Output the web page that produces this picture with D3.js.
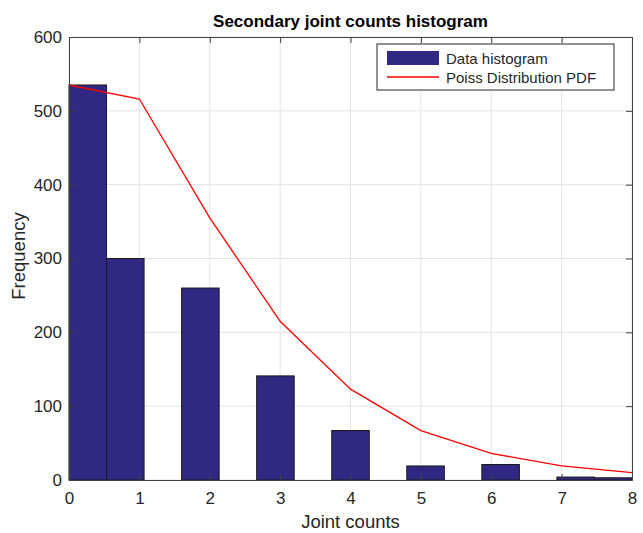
<!DOCTYPE html>
<html>
<head>
<meta charset="utf-8">
<script src="https://cdn.jsdelivr.net/npm/d3@7/dist/d3.min.js"></script>
<style>
body{margin:0;background:#fff;}
svg text{font-family:"Liberation Sans",Arial,sans-serif;fill:#262626;}
</style>
</head>
<body>
<svg id="chart" width="643" height="533"></svg>
<script>
// 15 histogram bins spread across [0, 8]
var binCount=15
var binCounts=[535,300,0,260,0,141,0,67,0,19,0,21,0,4,3]
var poissX=[0,1,2,3,4,5,6,7,8]
var poissY=[535,516,355,215,123,67,36,19,10]
var xTicks=[0,1,2,3,4,5,6,7,8]
var yTicks=[0,100,200,300,400,500,600]

var svg=d3.select("#chart")
var plotLeft=69,plotRight=632,plotTop=37,plotBottom=480

var xScale=d3.scaleLinear().domain([0,8]).range([plotLeft,plotRight])
var yScale=d3.scaleLinear().domain([0,600]).range([plotBottom,plotTop])

var binW=8/binCount
var bins=binCounts.map((c,i)=>({x0:i*binW,x1:(i+1)*binW,count:c})).filter(d=>d.count>0)

// grid
svg.append("g")
.selectAll("line")
.data(xTicks)
.enter()
.append("line")
.attr("x1",d=>xScale(d)).attr("x2",d=>xScale(d))
.attr("y1",plotTop).attr("y2",plotBottom)
.attr("stroke","#e3e3e3")

svg.append("g")
.selectAll("line")
.data(yTicks)
.enter()
.append("line")
.attr("x1",plotLeft).attr("x2",plotRight)
.attr("y1",d=>yScale(d)).attr("y2",d=>yScale(d))
.attr("stroke","#e3e3e3")

// bars
svg.append("g")
.selectAll("rect")
.data(bins)
.enter()
.append("rect")
.attr("x",d=>xScale(d.x0))
.attr("y",d=>yScale(d.count))
.attr("width",d=>xScale(d.x1)-xScale(d.x0))
.attr("height",d=>plotBottom-yScale(d.count))
.attr("fill","#312883")
.attr("stroke","#1a1a1a")
.attr("stroke-width",1)

// poisson line
var line=d3.line().x((d,i)=>xScale(poissX[i])).y(d=>yScale(d))
svg.append("path")
.datum(poissY)
.attr("d",line)
.attr("fill","none")
.attr("stroke","#ff0000")
.attr("stroke-width",1.3)

// axes (ticks inward, MATLAB box style)
function styleAxis(g){
	g.selectAll("path").attr("stroke","#404040")
	g.selectAll("line").attr("stroke","#404040")
	g.selectAll("text").style("font-size","17px").attr("fill","#262626")
}
svg.append("g")
.attr("transform","translate(0,"+plotBottom+")")
.call(d3.axisBottom(xScale).tickValues(xTicks).tickSizeInner(-6).tickSizeOuter(0).tickPadding(12))
.call(styleAxis)

svg.append("g")
.attr("transform","translate(0,"+plotTop+")")
.call(d3.axisTop(xScale).tickValues(xTicks).tickSizeInner(-6).tickSizeOuter(0).tickFormat(""))
.call(styleAxis)

svg.append("g")
.attr("transform","translate("+plotLeft+",0)")
.call(d3.axisLeft(yScale).tickValues(yTicks).tickSizeInner(-6).tickSizeOuter(0).tickPadding(7))
.call(styleAxis)

svg.append("g")
.attr("transform","translate("+plotRight+",0)")
.call(d3.axisRight(yScale).tickValues(yTicks).tickSizeInner(-6).tickSizeOuter(0).tickFormat(""))
.call(styleAxis)

// title & labels
svg.append("text")
.attr("x",(plotLeft+plotRight)/2).attr("y",27)
.attr("text-anchor","middle")
.style("font-size","17px").style("font-weight","bold")
.style("fill","#000")
.text("Secondary joint counts histogram")

svg.append("text")
.attr("x",(plotLeft+plotRight)/2).attr("y",528)
.attr("text-anchor","middle")
.style("font-size","18.5px")
.text("Joint counts")

svg.append("text")
.attr("transform","translate(25,256) rotate(-90)")
.attr("text-anchor","middle")
.style("font-size","18.5px")
.text("Frequency")

// legend
var lg=svg.append("g").attr("transform","translate(377,44)")
lg.append("rect").attr("width",237).attr("height",46).attr("fill","#fff").attr("stroke","#262626")
lg.append("rect").attr("x",10).attr("y",7).attr("width",52).attr("height",14).attr("fill","#312883")
lg.append("line").attr("x1",10).attr("x2",62).attr("y1",33).attr("y2",33).attr("stroke","#ff0000").attr("stroke-width",1.3)
lg.append("text").attr("x",69).attr("y",20).style("font-size","15px").text("Data histogram")
lg.append("text").attr("x",69).attr("y",39).style("font-size","15px").text("Poiss Distribution PDF")
</script>
</body>
</html>
